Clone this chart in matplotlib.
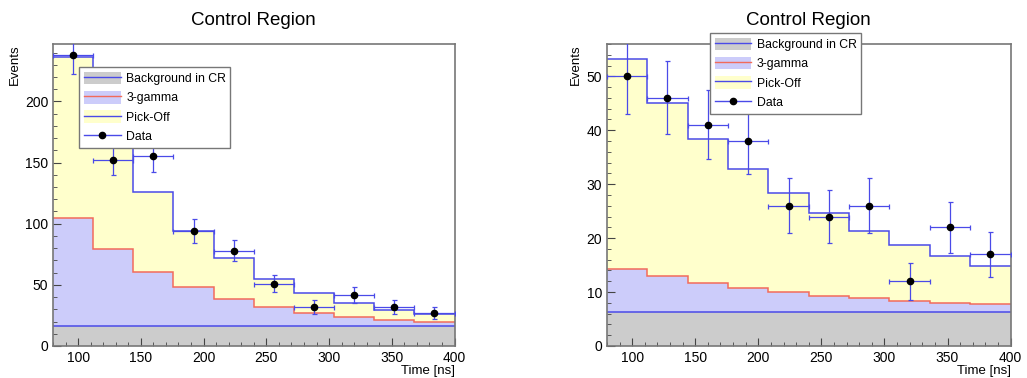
import matplotlib.pyplot as plt
import numpy as np
from matplotlib.patches import Patch
from matplotlib.lines import Line2D
from matplotlib.ticker import MultipleLocator

plt.rcParams['font.family'] = ['Liberation Sans', 'DejaVu Sans']

# Bin edges (ns)
edges = [80, 112, 144, 176, 208, 240, 272, 304, 336, 368, 400]

# Left panel
left_bg = [16, 16, 16, 16, 16, 16, 16, 16, 16, 16]
left_3gamma = [89, 63, 44.5, 32, 22.5, 15.7, 11, 8, 5.6, 3.7]
left_pickoff = [131, 92, 65.5, 46, 33.1, 23, 16.4, 11.5, 8.2, 6.3]
left_data = [238, 152, 155, 94, 78, 51, 32, 42, 32, 27]

# Right panel
right_bg = [6.3, 6.3, 6.3, 6.3, 6.3, 6.3, 6.3, 6.3, 6.3, 6.3]
right_3gamma = [8.0, 6.6, 5.3, 4.5, 3.7, 3.05, 2.6, 2.1, 1.75, 1.4]
right_pickoff = [38.9, 32.2, 26.8, 22.0, 18.3, 15.25, 12.5, 10.4, 8.55, 7.2]
right_data = [50, 46, 41, 38, 26, 24, 26, 12, 22, 17]

GRAY = '#cccccc'
LAV = '#ccccfa'
YEL = '#ffffcc'
BLUE = '#4a4ae8'
RED = '#f26b5b'


def draw_panel(ax, bg, g3, po, data, ymax, ymajor, yminor, leg_box):
    e = np.array(edges, dtype=float)
    bg = np.array(bg)
    top3 = bg + np.array(g3)
    total = top3 + np.array(po)

    # stacked histograms: background, 3-gamma, pick-off
    ax.stairs(bg, e, baseline=0, fill=True, color=GRAY, lw=0)
    ax.stairs(top3, e, baseline=bg, fill=True, color=LAV, lw=0)
    ax.stairs(total, e, baseline=top3, fill=True, color=YEL, lw=0)
    ax.stairs(bg, e, baseline=None, color=BLUE, lw=1.1)
    ax.stairs(top3, e, baseline=None, color=RED, lw=1.1)
    ax.stairs(total, e, baseline=None, color=BLUE, lw=1.1)

    centers = (e[:-1] + e[1:]) / 2
    half = (e[1:] - e[:-1]) / 2
    d = np.array(data, dtype=float)
    ax.errorbar(centers, d, xerr=half, yerr=np.sqrt(d), fmt='o', ms=4.5,
                mfc='black', mec='black', ecolor=BLUE, elinewidth=0.9,
                capsize=1.8, capthick=0.9, zorder=5)

    ax.set_xlim(80, 400)
    ax.set_ylim(0, ymax)
    ax.xaxis.set_major_locator(MultipleLocator(50))
    ax.xaxis.set_minor_locator(MultipleLocator(10))
    ax.yaxis.set_major_locator(MultipleLocator(ymajor))
    ax.yaxis.set_minor_locator(MultipleLocator(yminor))
    ax.tick_params(which='both', direction='in', labelsize=10, color='#444444')
    ax.tick_params(which='major', length=5.5)
    ax.tick_params(which='minor', length=3)
    for s in ax.spines.values():
        s.set_color('#777777')
        s.set_linewidth(1.2)

    ax.set_title('Control Region', fontsize=13.5, pad=14)
    ax.set_ylabel('Events', loc='top', fontsize=9.5, labelpad=3)
    ax.set_xlabel('Time [ns]', loc='right', fontsize=9.5, labelpad=0)

    handles = [
        (Patch(facecolor=GRAY, edgecolor='none'), Line2D([], [], color=BLUE, lw=1)),
        (Patch(facecolor=LAV, edgecolor='none'), Line2D([], [], color=RED, lw=1)),
        (Patch(facecolor=YEL, edgecolor='none'), Line2D([], [], color=BLUE, lw=1)),
        Line2D([], [], color=BLUE, lw=1, marker='o', ms=4.5, mfc='black', mec='black'),
    ]
    labels = ['Background in CR', '3-gamma', 'Pick-Off', 'Data']
    leg = ax.legend(handles, labels, loc='upper left', bbox_to_anchor=leg_box,
                    mode='expand', fontsize=8.8, frameon=True, fancybox=False,
                    framealpha=1, edgecolor='#777777', handlelength=3,
                    handleheight=1.2, labelspacing=0.48, borderpad=0.4,
                    borderaxespad=0, handletextpad=0.45)
    leg.get_frame().set_linewidth(1.0)
    leg.set_zorder(10)


fig = plt.figure(figsize=(10.27, 3.78), dpi=100)
ax1 = fig.add_axes([0.0516, 0.0847, 0.391, 0.799])
ax2 = fig.add_axes([0.591, 0.0847, 0.393, 0.799])

draw_panel(ax1, left_bg, left_3gamma, left_pickoff, left_data, 247, 50, 10,
           (0.065, 0.662, 0.375, 0.262))
draw_panel(ax2, right_bg, right_3gamma, right_pickoff, right_data, 56, 10, 2,
           (0.255, 0.774, 0.374, 0.263))

fig.savefig('out.png', dpi=100)
